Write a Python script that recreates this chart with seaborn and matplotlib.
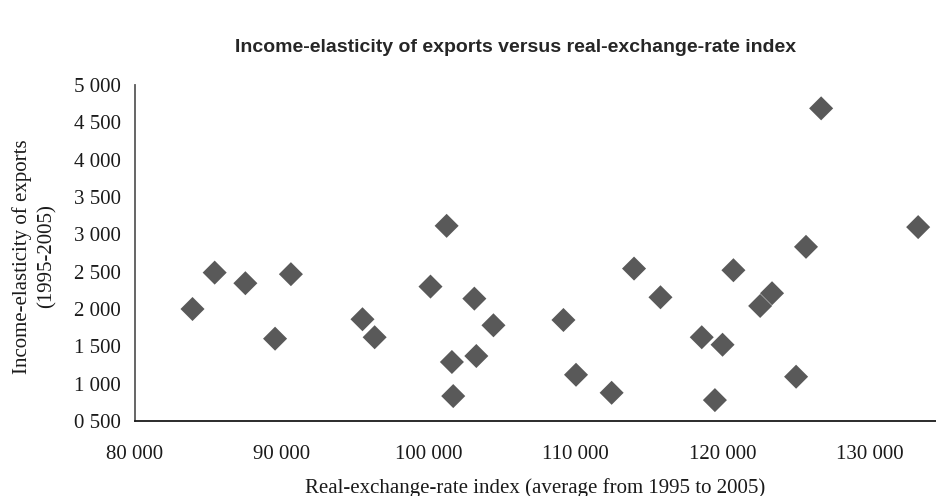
import pandas as pd
import matplotlib
matplotlib.use("Agg")
import matplotlib.pyplot as plt
import seaborn as sns

# Data
rer_index = [83926, 85434, 87522, 90620, 89542, 95488, 96316, 101212, 100114, 103098,
             104397, 101571, 103232, 101661, 109158, 110013, 112436, 113960, 115758, 118566,
             119980, 119461, 120720, 122539, 123347, 124983, 125657, 126687, 133286]
elasticity = [2000, 2487, 2345, 2466, 1603, 1863, 1622, 3113, 2300, 2139,
              1782, 1291, 1371, 835, 1853, 1120, 879, 2541, 2157, 1622,
              1522, 781, 2519, 2041, 2211, 1094, 2832, 4685, 3096]

x_ticks = [80000, 90000, 100000, 110000, 120000, 130000]
x_tick_labels = ["80 000", "90 000", "100 000", "110 000", "120 000", "130 000"]
y_ticks = [500, 1000, 1500, 2000, 2500, 3000, 3500, 4000, 4500, 5000]
y_tick_labels = ["0 500", "1 000", "1 500", "2 000", "2 500", "3 000", "3 500", "4 000", "4 500", "5 000"]

df = pd.DataFrame({"rer": rer_index, "elasticity": elasticity})

sns.set_style("white")
plt.rcParams['font.family'] = ['Liberation Serif', 'DejaVu Serif']

fig = plt.figure(figsize=(9.36, 4.96), dpi=100)
ax = fig.add_axes([0.144, 0.151, 0.856, 0.678])

sns.scatterplot(data=df, x="rer", y="elasticity", marker="D", s=150,
                color="#595959", edgecolor="none", ax=ax)

ax.set_xlim(80400, 134500)
ax.set_ylim(500, 5000)
ax.set_xticks(x_ticks)
ax.set_xticklabels(x_tick_labels, fontsize=15)
ax.set_yticks(y_ticks)
ax.set_yticklabels(y_tick_labels, fontsize=15)
ax.tick_params(axis="y", length=0, pad=10, colors="#1a1a1a")
ax.tick_params(axis="x", length=0, pad=17, colors="#1a1a1a")

for side in ["top", "right"]:
    ax.spines[side].set_visible(False)
ax.spines["left"].set_color("#595959")
ax.spines["left"].set_linewidth(1.3)
ax.spines["bottom"].set_color("#1a1a1a")
ax.spines["bottom"].set_linewidth(1.3)

ax.set_xlabel("Real-exchange-rate index (average from 1995 to 2005)", fontsize=15,
              labelpad=10, color="#1a1a1a")
ax.set_ylabel("Income-elasticity of exports\n(1995-2005)", fontsize=15,
              linespacing=1.35, color="#1a1a1a")
ax.yaxis.set_label_coords(-0.098, 0.49)

fig.text(0.551, 0.905, "Income-elasticity of exports versus real-exchange-rate index",
         ha="center", va="center", fontsize=14, fontweight="bold",
         family=["Liberation Sans", "DejaVu Sans"])

fig.savefig("out.png", dpi=100)
